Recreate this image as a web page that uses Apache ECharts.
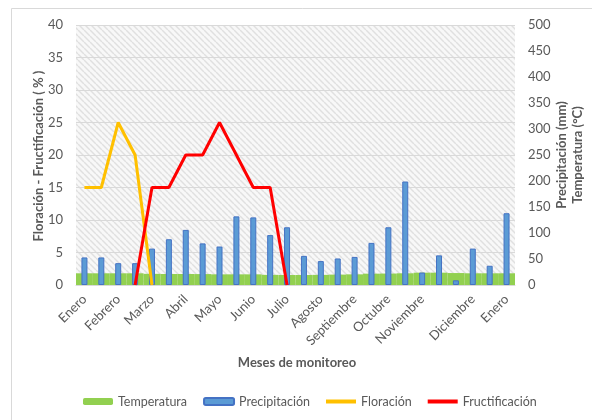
<!DOCTYPE html>
<html>
<head>
<meta charset="utf-8">
<script src="https://cdn.jsdelivr.net/npm/echarts@6/dist/echarts.min.js"></script>
<style>
  html, body { margin: 0; padding: 0; background: #ffffff; }
  #chart { width: 592px; height: 420px; }
</style>
</head>
<body>
<div id="chart"></div>
<script>
// Monthly monitoring: two samplings per month
const categories = ["Enero", "", "Febrero", "", "Marzo", "", "Abril", "", "Mayo", "", "Junio", "", "Julio", "",
  "Agosto", "", "Septiembre", "", "Octubre", "", "Noviembre", "", "", "Diciembre", "", "Enero"];

// Precipitation (mm), right axis
const precipitacion = [53, 53, 42, 42, 70, 88, 106, 80, 74, 132, 130, 96, 111, 56, 46, 51, 54, 81, 111, 199, 24, 57, 9, 70, 37, 138];

// Temperature (°C), right axis
const temperatura = [22.5, 22.5, 22.5, 22.5, 21.5, 21.2, 21.2, 21, 20.5, 20.5, 20.5, 19.5, 19.2, 19.2, 19.5, 20, 20.5, 21.8, 22, 22.5, 23.7, 23.7, 23, 22.5, 22.5, 22.5];

// Flowering and fruiting (%), left axis
const floracion = [15, 15, 25, 20, 0, null, null, null, null, null, null, null, null, null, null, null, null, null, null, null, null, null, null, null, null, null];
const fructificacion = [null, null, null, 0, 15, 15, 20, 20, 25, 20, 15, 15, 0, null, null, null, null, null, null, null, null, null, null, null, null, null];

// Axis ranges
const leftMax = 40, leftStep = 5;
const rightMax = 500, rightStep = 50;

// Axis titles
const titleLeft = 'Floración - Fructificación ( % )';
const titleRight = 'Precipitación (mm)\nTemperatura (°C)';
const titleBottom = 'Meses de monitoreo';

const textColor = '#595959';
const fontFamily = 'Lato, "Liberation Sans", sans-serif';

// Diagonal hatch used as plot-area fill
function hatchPattern() {
  const s = 6;
  const c = document.createElement('canvas');
  c.width = s; c.height = s;
  const ctx = c.getContext('2d');
  ctx.fillStyle = '#f8f8f8';
  ctx.fillRect(0, 0, s, s);
  ctx.strokeStyle = '#e0e0e0';
  ctx.lineWidth = 1.5;
  for (const off of [-s, 0, s]) {
    ctx.beginPath();
    ctx.moveTo(off, 0);
    ctx.lineTo(off + s, s);
    ctx.stroke();
  }
  return { image: c, repeat: 'repeat' };
}

// Thin bar used as legend key for the line series
const lineKey = 'path://M0,0 H30 V4 H0 Z';

const titleStyle = {
  fill: textColor,
  fontSize: 13,
  fontWeight: 'bold',
  fontFamily: fontFamily,
  align: 'center',
  verticalAlign: 'middle',
  lineHeight: 16
};

const chart = echarts.init(document.getElementById('chart'), null, { renderer: 'canvas' });

chart.setOption({
  animation: false,
  backgroundColor: '#ffffff',
  textStyle: { fontFamily: fontFamily, color: textColor },
  graphic: [{
    type: 'rect',
    shape: { x: 11.5, y: 8.5, width: 640, height: 460 },
    style: { fill: 'none', stroke: '#d9d9d9', lineWidth: 1 },
    silent: true,
    z: -10
  }, {
    type: 'text',
    x: 39, y: 156,
    rotation: Math.PI / 2,
    style: Object.assign({ text: titleLeft }, titleStyle),
    silent: true
  }, {
    type: 'text',
    x: 569.5, y: 155,
    rotation: Math.PI / 2,
    style: Object.assign({ text: titleRight }, titleStyle),
    silent: true
  }, {
    type: 'text',
    x: 297, y: 363,
    style: Object.assign({ text: titleBottom }, titleStyle),
    silent: true
  }],
  grid: {
    left: 76, right: 77, top: 25, bottom: 135,
    show: true,
    backgroundColor: hatchPattern(),
    borderWidth: 0
  },
  legend: {
    left: 83, top: 395, padding: 0,
    itemWidth: 30, itemHeight: 7, itemGap: 16,
    textStyle: { fontSize: 12.5, color: textColor, fontFamily: fontFamily },
    data: [
      { name: 'Temperatura' },
      { name: 'Precipitación' },
      { name: 'Floración', icon: lineKey },
      { name: 'Fructificación', icon: lineKey }
    ]
  },
  xAxis: [{
    type: 'category',
    data: categories,
    boundaryGap: true,
    axisLine: { lineStyle: { color: '#d9d9d9' } },
    axisTick: { show: false },
    axisLabel: { interval: 0, rotate: 45, margin: 12, fontSize: 13, color: textColor, fontFamily: fontFamily },
    splitLine: { show: false }
  }, {
    type: 'category',
    data: categories,
    show: false
  }],
  yAxis: [{
    type: 'value',
    min: 0, max: leftMax, interval: leftStep,
    axisLine: { show: false },
    axisTick: { show: false },
    axisLabel: { margin: 13, fontSize: 13, color: textColor, fontFamily: fontFamily },
    splitLine: { lineStyle: { color: '#d9d9d9', width: 1 } }
  }, {
    type: 'value',
    position: 'right',
    min: 0, max: rightMax, interval: rightStep,
    axisLine: { show: false },
    axisTick: { show: false },
    axisLabel: { margin: 13, fontSize: 13, color: textColor, fontFamily: fontFamily },
    splitLine: { show: false }
  }],
  series: [{
    name: 'Temperatura',
    type: 'bar',
    xAxisIndex: 1,
    yAxisIndex: 1,
    data: temperatura,
    barCategoryGap: '0%',
    itemStyle: { color: '#92d050' }
  }, {
    name: 'Precipitación',
    type: 'bar',
    xAxisIndex: 0,
    yAxisIndex: 1,
    data: precipitacion,
    barWidth: 6,
    itemStyle: { color: '#5b9bd5', borderColor: '#4472c4', borderWidth: 1 }
  }, {
    name: 'Floración',
    type: 'line',
    xAxisIndex: 0,
    yAxisIndex: 0,
    data: floracion,
    showSymbol: false,
    symbol: 'none',
    clip: false,
    lineStyle: { color: '#ffc000', width: 3 },
    itemStyle: { color: '#ffc000' },
    z: 5
  }, {
    name: 'Fructificación',
    type: 'line',
    xAxisIndex: 0,
    yAxisIndex: 0,
    data: fructificacion,
    showSymbol: false,
    symbol: 'none',
    clip: false,
    lineStyle: { color: '#ff0000', width: 3 },
    itemStyle: { color: '#ff0000' },
    z: 6
  }]
});
</script>
</body>
</html>
